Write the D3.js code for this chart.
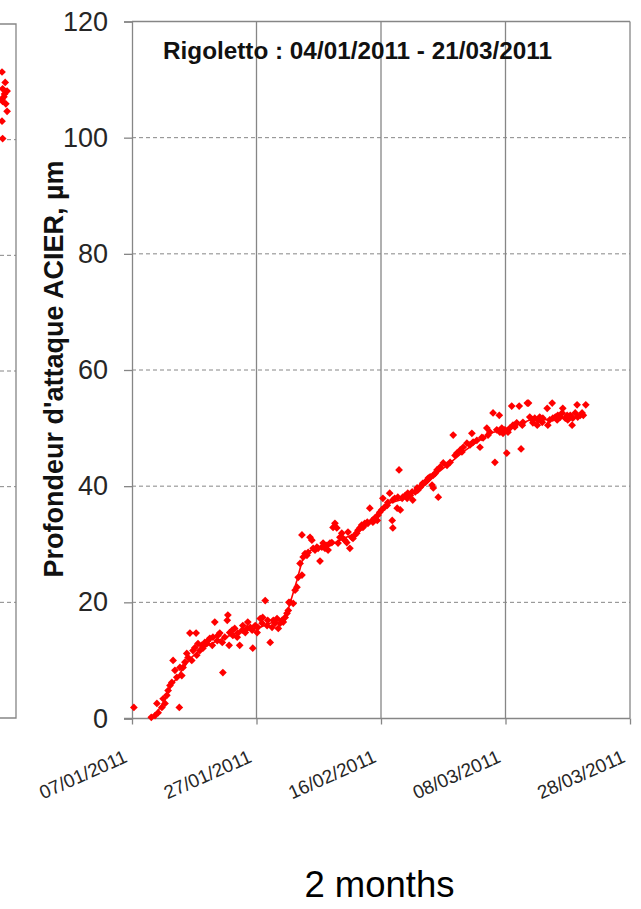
<!DOCTYPE html>
<html>
<head>
<meta charset="utf-8">
<script src="https://cdn.jsdelivr.net/npm/d3@7"></script>
<style>
  html, body { margin: 0; padding: 0; background: #fff; }
  svg { display: block; }
  text { font-family: "Liberation Sans", Arial, sans-serif; }
</style>
</head>
<body>
<svg id="chart" width="641" height="909"></svg>
<script>
// Rigoletto campaign: steel attack depth (µm) versus date.
// Readings are [day of year 2011, depth µm].
const chartTitle = "Rigoletto : 04/01/2011 - 21/03/2011";
const yTitle = "Profondeur d'attaque ACIER, µm";
const caption = "2 months";
const xTickLabels = ["07/01/2011", "27/01/2011", "16/02/2011", "08/03/2011", "28/03/2011"];
const yTickValues = [0, 20, 40, 60, 80, 100, 120];

const readings = [
  [7.3,1.9],[10.1,0.2],[10.7,0.5],[11.0,2.6],[11.2,1.0],[11.8,1.9],[12.0,3.4],[12.3,2.6],
  [12.6,4.0],[12.8,4.8],[13.1,5.7],[13.4,6.2],[13.6,10.0],[13.9,8.3],[14.2,7.1],[14.6,1.9],
  [14.7,8.8],[15.0,7.4],[15.2,8.8],[15.5,9.7],[15.8,11.2],[16.0,10.5],[16.3,14.7],[16.6,10.0],
  [16.8,11.7],[17.1,12.2],[17.3,14.7],[17.4,10.9],[17.6,12.9],[17.9,11.7],[18.2,12.6],[18.4,12.1],
  [18.7,13.1],[19.0,12.9],[19.2,13.4],[19.5,13.8],[19.9,12.6],[20.0,14.0],[20.3,16.6],[20.7,13.4],
  [20.8,14.3],[21.1,14.7],[21.5,13.1],[21.6,7.9],[21.9,14.0],[22.3,16.9],[22.4,17.8],[22.6,12.6],
  [22.7,14.8],[23.1,15.2],[23.2,14.3],[23.5,15.5],[23.9,14.0],[24.0,14.7],[24.3,12.6],[24.7,15.2],
  [24.8,16.0],[25.2,14.8],[25.5,15.5],[25.6,16.6],[26.0,15.7],[26.3,15.2],[26.4,12.1],[26.8,16.0],
  [27.1,14.8],[27.2,15.7],[27.6,17.2],[27.9,16.4],[28.0,17.4],[28.4,20.3],[28.7,16.0],[28.8,16.9],
  [29.2,13.1],[29.5,15.7],[29.7,16.9],[30.0,16.4],[30.3,17.2],[30.5,15.5],[30.8,16.4],[31.1,16.9],
  [31.3,16.6],[31.6,17.4],[31.9,18.1],[32.2,20.0],[32.1,18.6],[32.4,20.0],[32.9,19.8],[33.2,22.1],
  [33.5,22.6],[33.7,24.3],[34.0,26.7],[34.3,24.7],[34.3,31.6],[34.5,27.8],[34.8,28.4],[35.1,28.1],
  [35.3,28.6],[35.6,31.2],[35.9,30.7],[36.1,29.3],[36.4,29.0],[36.7,29.5],[36.9,29.3],[37.2,27.1],
  [37.5,29.5],[37.7,30.2],[38.0,29.3],[38.3,29.8],[38.5,29.0],[38.8,30.2],[39.1,30.3],[39.3,32.9],
  [39.6,33.6],[39.9,32.8],[40.1,30.2],[40.4,31.2],[40.7,31.9],[40.9,31.0],[41.2,30.7],[41.5,30.3],
  [41.7,32.1],[42.0,29.3],[42.3,31.2],[42.5,31.0],[42.8,31.6],[43.1,31.9],[43.3,32.4],[43.6,32.8],
  [43.9,33.3],[44.1,32.9],[44.4,33.6],[44.8,33.8],[44.9,33.6],[45.2,36.2],[45.6,34.1],[45.7,33.8],
  [46.0,34.5],[46.4,34.1],[46.5,35.0],[46.8,35.5],[47.1,35.9],[47.3,37.9],[47.6,36.4],[48.0,36.7],
  [48.1,37.2],[48.4,38.8],[48.8,34.1],[48.9,32.8],[48.9,37.6],[49.2,37.9],[49.6,36.2],[49.7,38.1],
  [49.9,42.8],[50.1,35.9],[50.4,37.9],[50.5,38.1],[50.9,38.4],[51.2,37.9],[51.3,38.8],[51.7,38.4],
  [52.0,39.0],[52.1,37.6],[52.5,39.0],[52.8,39.7],[52.9,39.3],[53.3,39.8],[53.6,40.2],[53.7,40.5],
  [54.1,40.7],[54.4,41.0],[54.6,41.4],[54.9,41.6],[55.2,40.2],[55.4,39.7],[55.4,41.9],[55.7,42.2],
  [56.0,42.8],[56.2,38.1],[56.5,43.3],[57.0,44.0],[57.6,43.6],[58.1,44.1],[58.6,48.8],[58.9,45.3],
  [59.2,45.7],[59.7,46.2],[60.0,45.9],[60.2,46.7],[60.8,47.4],[61.3,47.1],[61.6,49.1],[61.8,47.6],
  [62.4,47.9],[62.9,46.7],[63.2,48.4],[63.4,48.3],[64.0,50.0],[64.2,48.8],[64.5,49.3],[65.0,52.6],
  [65.3,44.1],[65.6,49.7],[66.0,52.2],[66.1,49.3],[66.4,50.0],[66.6,49.1],[66.9,49.7],[67.2,45.7],
  [67.4,49.3],[67.7,50.0],[68.0,53.8],[68.2,50.5],[68.5,50.2],[68.8,50.9],[69.2,53.8],[69.5,46.4],
  [69.7,50.5],[69.8,51.0],[70.5,54.3],[70.7,54.3],[70.9,51.9],[71.3,51.4],[71.4,50.9],[71.7,51.7],
  [72.1,50.5],[72.2,51.4],[72.5,51.9],[72.9,51.0],[73.0,51.7],[73.7,53.4],[73.8,50.5],[74.1,51.4],
  [74.5,54.3],[74.6,51.7],[75.0,51.9],[75.3,51.4],[75.4,52.2],[75.8,51.9],[76.1,52.6],[76.2,53.4],
  [76.6,51.7],[76.9,52.2],[77.0,51.4],[77.4,52.2],[77.7,50.5],[77.8,51.7],[78.2,52.6],[78.5,54.0],
  [78.6,51.9],[79.0,52.2],[79.3,52.6],[79.5,52.2],[79.9,54.0]
];

// Smoothed trend of the readings, [day of year 2011, depth µm].
const trend = [
  [9.9,0],[10.4,0.2],[12.0,2.6],[13.1,5.3],[14.7,7.8],[16.3,10.3],[18.4,12.2],[20.7,13.4],
  [22.7,14.3],[24.8,15.2],[27.1,15.5],[29.2,16.4],[31.3,17.2],[31.9,18.1],[33.5,23.8],[34.5,27.8],
  [36.1,29.3],[38.8,29.8],[40.9,31.0],[43.1,31.9],[45.2,33.6],[46.8,35.9],[48.4,37.1],[50.1,37.6],
  [52.1,38.8],[54.4,40.5],[56.0,42.2],[58.1,44.0],[60.2,45.9],[62.4,47.6],[64.5,49.1],[66.6,49.7],
  [68.8,50.5],[70.9,51.4],[73.0,51.4],[75.3,51.7],[77.4,51.7],[79.8,52.2]
];

// Tail of the preceding campaign panel: [days before panel end, depth µm].
const previousTail = [
  [-2.2,111.7],[-1.7,109.9],[-2.1,108.8],[-1.8,107.9],[-2.2,107.0],[-2.1,106.6],[-1.4,108.4],
  [-1.4,104.9],[-2.2,103.2],[-2.1,100.2],[-1.9,107.4],[-1.6,106.2]
];

const parseDate = d3.utcParse("%d/%m/%Y");
const dayToDate = d => new Date(Date.UTC(2011, 0, 1) + (d - 1) * 864e5);

const svg = d3.select("#chart");
const font = '"Liberation Sans", Arial, sans-serif';
const axisGrey = "#868686";
const red = "#ff0000";
const marker = d3.symbol(d3.symbolSquare, 30);

// ---- preceding panel (only its right edge is in view) ----
const prev = { left: -620, right: 16, top: 24, bottom: 718 };
const pxX = d3.scaleLinear().domain([-100, 0]).range([prev.left, prev.right]);
const pyY = d3.scaleLinear().domain([0, 120]).range([prev.bottom, prev.top]);
const gPrev = svg.append("g");
gPrev.selectAll("line.grid").data([20, 40, 60, 80, 100]).join("line")
  .attr("x1", 0).attr("x2", prev.right)
  .attr("y1", d => pyY(d)).attr("y2", d => pyY(d))
  .attr("stroke", axisGrey).attr("stroke-dasharray", "4,3");
gPrev.append("path")
  .attr("d", `M0,${prev.top}H${prev.right}V${prev.bottom}H0`)
  .attr("fill", "none").attr("stroke", axisGrey).attr("stroke-width", 1.3);
gPrev.selectAll("path.pt").data(previousTail).join("path")
  .attr("d", marker)
  .attr("transform", d => `translate(${pxX(d[0])},${pyY(d[1])}) rotate(45)`)
  .attr("fill", red);

// ---- main panel ----
const m = { left: 132, right: 630, top: 21.5, bottom: 718.5 };
const x = d3.scaleUtc()
  .domain([parseDate(xTickLabels[0]), parseDate(xTickLabels[xTickLabels.length - 1])])
  .range([m.left, m.right]);
const y = d3.scaleLinear().domain([0, 120]).range([m.bottom, m.top]);
const xTicks = xTickLabels.map(parseDate);

const g = svg.append("g");

// horizontal dashed grid
g.selectAll("line.hgrid").data(yTickValues.filter(v => v > 0 && v < 120)).join("line")
  .attr("x1", m.left).attr("x2", m.right)
  .attr("y1", d => y(d)).attr("y2", d => y(d))
  .attr("stroke", axisGrey).attr("stroke-dasharray", "4,3");

// vertical solid grid
g.selectAll("line.vgrid").data(xTicks.slice(1)).join("line")
  .attr("x1", d => x(d)).attr("x2", d => x(d))
  .attr("y1", m.top).attr("y2", m.bottom)
  .attr("stroke", axisGrey).attr("stroke-width", 1.3);

// top border
g.append("line").attr("x1", m.left).attr("x2", m.right)
  .attr("y1", m.top).attr("y2", m.top).attr("stroke", axisGrey).attr("stroke-width", 1.3);

// y axis
const yAxis = d3.axisLeft(y).tickValues(yTickValues).tickSize(8).tickPadding(16);
const gy = g.append("g").attr("transform", `translate(${m.left},0)`).call(yAxis);
gy.select(".domain").attr("stroke", axisGrey).attr("stroke-width", 1.3);
gy.selectAll(".tick line").attr("stroke", axisGrey).attr("stroke-width", 1.3);
gy.selectAll(".tick text")
  .attr("font-family", font).attr("font-size", 27).attr("fill", "#262626");

// x axis
const xAxis = d3.axisBottom(x).tickValues(xTicks).tickSize(6)
  .tickFormat(d3.utcFormat("%d/%m/%Y"));
const gx = g.append("g").attr("transform", `translate(0,${m.bottom})`).call(xAxis);
gx.select(".domain").attr("stroke", axisGrey).attr("stroke-width", 1.3)
  .attr("d", `M${m.left - 8},0H${m.right}`);
gx.selectAll(".tick line").attr("stroke", axisGrey).attr("stroke-width", 1.3);
gx.selectAll(".tick text")
  .attr("font-family", font).attr("font-size", 19).attr("fill", "#262626")
  .attr("text-anchor", "end").attr("dy", null).attr("y", null)
  .attr("transform", "translate(-4,43) rotate(-24)");

// trend line
const line = d3.line().x(d => x(dayToDate(d[0]))).y(d => y(d[1]));
g.append("path").datum(trend)
  .attr("d", line).attr("fill", "none").attr("stroke", red).attr("stroke-width", 1.6);

// readings
g.selectAll("path.pt").data(readings).join("path")
  .attr("d", marker)
  .attr("transform", d => `translate(${x(dayToDate(d[0]))},${y(d[1])}) rotate(45)`)
  .attr("fill", red);

// titles
svg.append("text").attr("x", 163).attr("y", 59)
  .attr("font-family", font).attr("font-weight", "bold").attr("font-size", 24.3)
  .attr("fill", "#111").text(chartTitle);

svg.append("text")
  .attr("transform", "translate(63,369) rotate(-90)")
  .attr("text-anchor", "middle")
  .attr("font-family", font).attr("font-weight", "bold").attr("font-size", 27)
  .attr("fill", "#111").text(yTitle);

svg.append("text").attr("x", 379.5).attr("y", 897)
  .attr("text-anchor", "middle")
  .attr("font-family", font).attr("font-size", 36.5)
  .attr("fill", "#000").text(caption);
</script>
</body>
</html>
